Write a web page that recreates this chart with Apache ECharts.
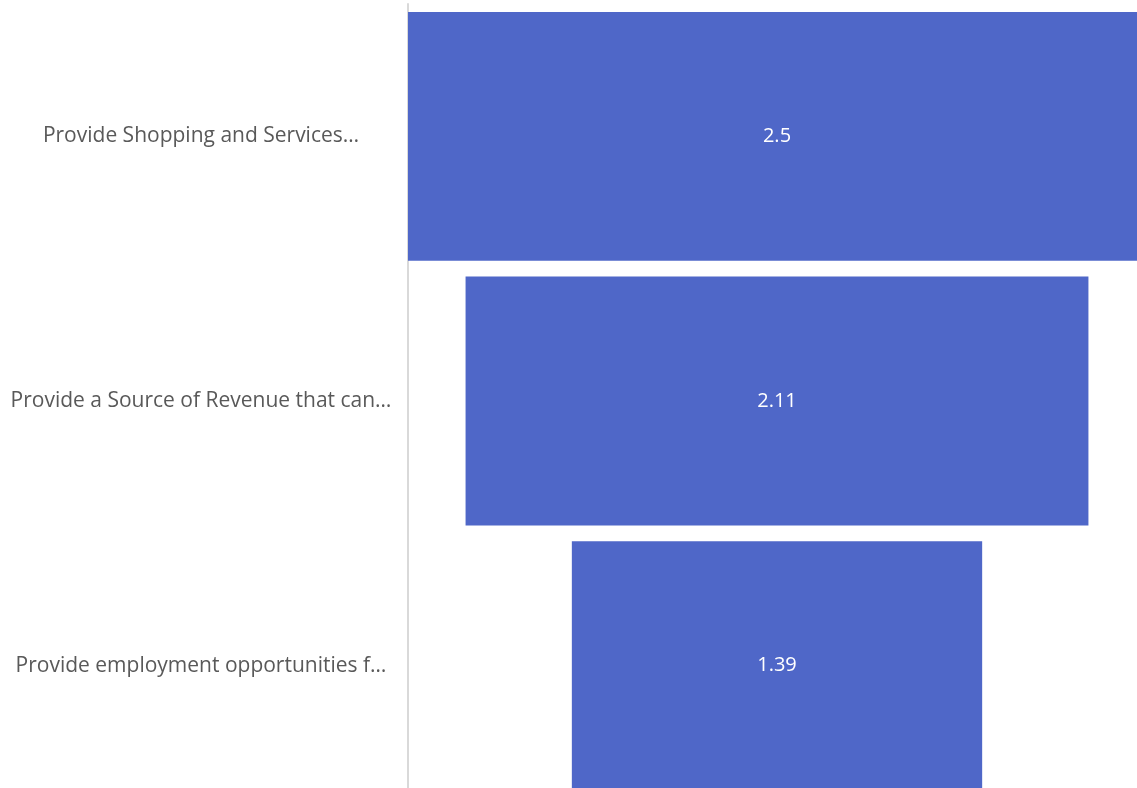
<!DOCTYPE html>
<html>
<head>
<meta charset="utf-8">
<script src="https://cdn.jsdelivr.net/npm/echarts@6/dist/echarts.min.js"></script>
<style>html,body{margin:0;padding:0;background:#fff;overflow:hidden;width:1137px;height:788px;}#c{width:1146px;height:798px;}</style>
</head>
<body>
<div id="c"></div>
<script>
const categories = [
  "Provide Shopping and Services…",
  "Provide a Source of Revenue that can…",
  "Provide employment opportunities f…"
];
const values = [2.5, 2.11, 1.39];
const maxValue = Math.max(...values);
const offsets = values.map(v => (maxValue - v) / 2);

const chart = echarts.init(document.getElementById('c'), null, {renderer: 'canvas'});
chart.setOption({
  animation: false,
  backgroundColor: '#ffffff',
  grid: {left: 408, right: 0, top: 4, bottom: 0, containLabel: false},
  xAxis: {
    type: 'value', min: 0, max: maxValue,
    show: false
  },
  yAxis: {
    type: 'category', data: categories, inverse: true,
    axisLine: {show: true, lineStyle: {color: '#d9d9d9', width: 2}},
    axisTick: {show: false},
    axisLabel: {
      color: '#595959', fontSize: 21, fontFamily: 'Open Sans',
      align: 'center', margin: 207
    },
    splitLine: {show: false}
  },
  series: [
    {
      type: 'bar', stack: 'f', data: offsets,
      itemStyle: {color: 'transparent'},
      barCategoryGap: '6%', silent: true
    },
    {
      type: 'bar', stack: 'f', data: values,
      itemStyle: {color: '#4f67c8'},
      barCategoryGap: '6%',
      label: {show: true, position: 'inside', color: '#ffffff', fontSize: 20, fontFamily: 'Open Sans'}
    }
  ]
});
</script>
</body>
</html>
